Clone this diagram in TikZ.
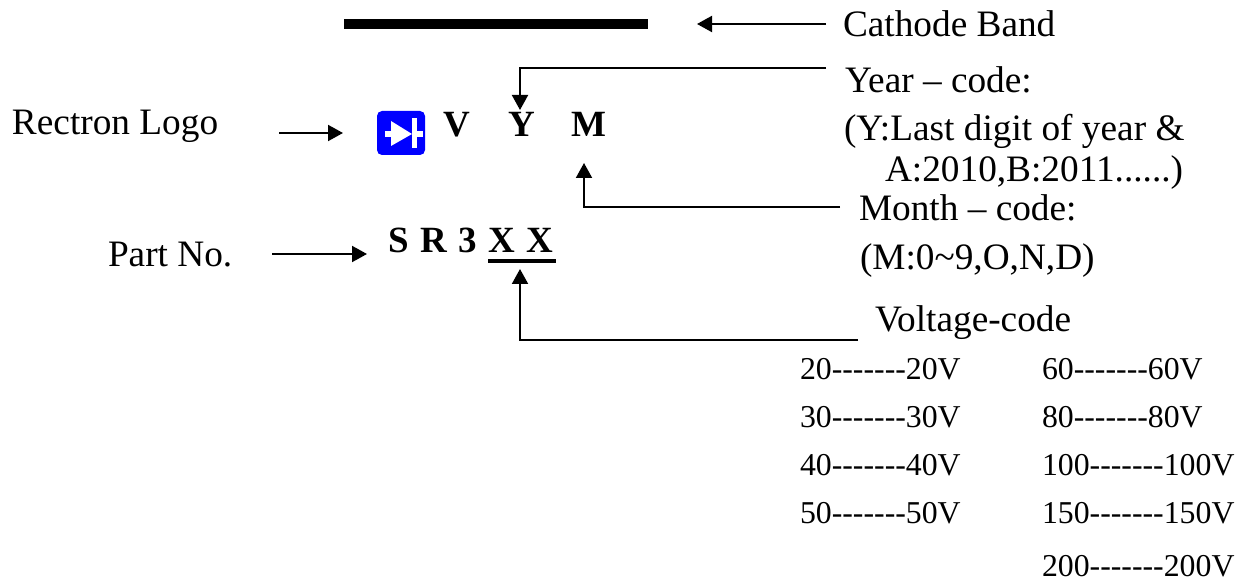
\documentclass[tikz,border=0pt]{standalone}
\usepackage{fontspec}
\setmainfont{Liberation Serif}
\newfontfamily\plainserif{Liberation Serif}
\usetikzlibrary{arrows.meta}
\tikzset{
  x=1pt,y=-1pt,
  lab/.style={anchor=base west,inner sep=0pt,outer sep=0pt,font=\fontsize{37.3}{37.3}\selectfont},
  small/.style={anchor=base west,inner sep=0pt,outer sep=0pt,font=\fontsize{31.8}{31.8}\plainserif\selectfont},
  code/.style={anchor=base west,inner sep=0pt,outer sep=0pt,font=\fontsize{37}{37}\selectfont\bfseries},
  conn/.style={line width=2pt,-{Triangle[length=15pt,width=16pt]}},
  bar/.style={fill=black,inner sep=0pt,outer sep=0pt,minimum width=0pt},
}
\begin{document}
\begin{tikzpicture}
\useasboundingbox (0,0) rectangle (1251,585);
% bars
\node[bar,anchor=north west,minimum width=304pt,minimum height=10pt] (band) at (344,19) {};
\node[bar,anchor=north west,minimum width=68pt,minimum height=4pt] (under) at (488,259) {};
% logo
\fill[blue,rounded corners=5pt] (377,111) rectangle (425,155);
\fill[white] (391,121) -- (412,134) -- (391,146) -- cycle;
\fill[white] (412,118) rectangle (417,148);
\fill[white] (385,131) rectangle (392,137);
\fill[white] (417,131) rectangle (423,137);
% labels
\node[lab] (cathode) at (843,37) {Cathode Band};
\node[lab] (year) at (845,93) {Year – code:};
\node[lab] (y2) at (844,141) {(Y:Last digit of year \&};
\node[lab] (y3) at (885,182) {A:2010,B:2011......)};
\node[lab] (month) at (859,221) {Month – code:};
\node[lab] (m2) at (860,270) {(M:0\textasciitilde 9,O,N,D)};
\node[lab] (volt) at (875,332) {Voltage-code};
\node[lab] (logo) at (12,135) {Rectron Logo};
\node[lab] (part) at (108,267) {Part No.};
\node[code] (v) at (443,137) {V};
\node[code] (yy) at (508,137) {Y};
\node[code] (mm) at (571,137) {M};
\node[code] (sr) at (388,253) {\spaceskip=11.6pt S R 3 X X};
% voltage table
\node[small] (a1) at (800,379.5) {20-------20V};
\node[small] (a2) at (800,427.5) {30-------30V};
\node[small] (a3) at (800,475.5) {40-------40V};
\node[small] (a4) at (800,523.5) {50-------50V};
\node[small] (b1) at (1042,379.5) {60-------60V};
\node[small] (b2) at (1042,427.5) {80-------80V};
\node[small] (b3) at (1042,475.5) {100-------100V};
\node[small] (b4) at (1042,523.5) {150-------150V};
\node[small] (b5) at (1042,576) {200-------200V};
% connector ends
\coordinate (c0) at (826,24);
\coordinate (c1) at (697,24);
\coordinate (c2) at (826,68);
\coordinate (c3) at (520,68);
\coordinate (c4) at (520,110);
\coordinate (c5) at (279,133);
\coordinate (c6) at (343,133);
\coordinate (c7) at (840,207);
\coordinate (c8) at (584,207);
\coordinate (c9) at (584,163);
\coordinate (c10) at (272,254);
\coordinate (c11) at (367,254);
\coordinate (c12) at (858,340);
\coordinate (c13) at (520,340);
\coordinate (c14) at (520,269);
\draw[conn] (c0) -- (c1);
\draw[conn] (c2) -- (c3) -- (c4);
\draw[conn] (c5) -- (c6);
\draw[conn] (c7) -- (c8) -- (c9);
\draw[conn] (c10) -- (c11);
\draw[conn] (c12) -- (c13) -- (c14);
\end{tikzpicture}
\end{document}
